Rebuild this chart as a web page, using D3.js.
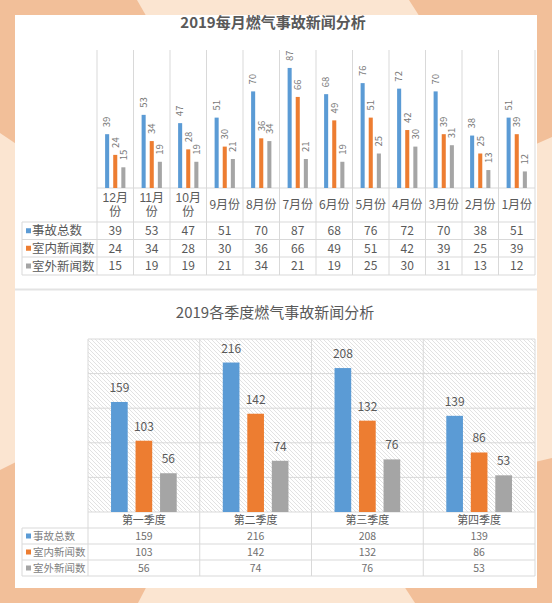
<!DOCTYPE html>
<html>
<head>
<meta charset="utf-8">
<script src="https://cdn.jsdelivr.net/npm/d3@7"></script>
<style>
  html, body { margin: 0; padding: 0; background: #fbe5d1; }
  svg { display: block; font-family: "Noto Sans CJK SC", "Noto Sans", sans-serif; }
  .cat { font-family: "Liberation Sans", "Noto Sans CJK SC", sans-serif; }
</style>
</head>
<body>
<svg id="chart" width="552" height="603"></svg>
<script>
// datos mensuales
var meses = ["12月份", "11月份", "10月份", "9月份", "8月份", "7月份", "6月份", "5月份", "4月份", "3月份", "2月份", "1月份"];
var totalMes = [39, 53, 47, 51, 70, 87, 68, 76, 72, 70, 38, 51];
var interiorMes = [24, 34, 28, 30, 36, 66, 49, 51, 42, 39, 25, 39];
var exteriorMes = [15, 19, 19, 21, 34, 21, 19, 25, 30, 31, 13, 12];

// datos trimestrales
var trimestres = ["第一季度", "第二季度", "第三季度", "第四季度"];
var totalTri = [159, 216, 208, 139];
var interiorTri = [103, 142, 132, 86];
var exteriorTri = [56, 74, 76, 53];
var ticksTri = [50, 100, 150, 200, 250];

var series = ["事故总数", "室内新闻数", "室外新闻数"];
var colores = ["#5b9bd5", "#ed7d31", "#a5a5a5"];

var svg = d3.select("#chart");
var textColor = "#595959";
var gridColor = "#d9d9d9";

// fondo decorativo
svg.append("rect").attr("width", 552).attr("height", 603).attr("fill", "#fbe5d1");
var esquinas = [
  [[0, 0], [137, 0], [160, 40], [40, 160], [0, 133]],
  [[409, 0], [552, 0], [552, 137], [500, 160], [425, 25]],
  [[0, 603], [0, 470], [40, 450], [150, 580], [138, 603]],
  [[552, 603], [415, 603], [400, 580], [500, 470], [552, 458]]
];
svg.selectAll(".esquina").data(esquinas).join("polygon")
  .attr("class", "esquina")
  .attr("points", function (d) { return d.map(function (p) { return p.join(","); }).join(" "); })
  .attr("fill", "#f2bf99");

// paneles blancos
svg.append("rect").attr("x", 15).attr("y", 15).attr("width", 522).attr("height", 573).attr("fill", "#ffffff");
svg.append("rect").attr("x", 15).attr("y", 288.5).attr("width", 522).attr("height", 2).attr("fill", "#e3e3e3");

// patron rayado del area de grafico
var defs = svg.append("defs");
var pat = defs.append("pattern")
  .attr("id", "rayas")
  .attr("patternUnits", "userSpaceOnUse")
  .attr("width", 4)
  .attr("height", 4);
pat.append("rect").attr("width", 4).attr("height", 4).attr("fill", "#ffffff");
pat.append("path")
  .attr("d", "M-1,-1 L5,5 M-1,3 L1,5 M3,-1 L5,1")
  .attr("stroke", "#d6d6d6")
  .attr("stroke-width", 0.7);

function drawChart(o) {
  var g = svg.append("g");
  var x = d3.scaleBand().domain(o.cats).range([o.left, o.right]);
  var xs = d3.scaleBand().domain(series).range([0, x.bandwidth()])
    .paddingInner(o.pi).paddingOuter(o.po);
  var y = d3.scaleLinear().domain([0, o.max]).range([o.filas[0], o.top]);

  // titulo
  g.append("text")
    .attr("x", o.tituloX)
    .attr("y", o.tituloY)
    .attr("text-anchor", "middle")
    .attr("font-size", 15)
    .attr("font-weight", o.negrita ? "bold" : "normal")
    .attr("fill", textColor)
    .text(o.titulo);

  if (o.rayado) {
    g.append("rect")
      .attr("x", o.left).attr("y", o.top)
      .attr("width", o.right - o.left).attr("height", o.filas[0] - o.top)
      .attr("fill", "url(#rayas)");
  }

  // lineas horizontales de la cuadricula
  g.selectAll(".hgrid").data(o.ticks).join("line")
    .attr("class", "hgrid")
    .attr("x1", o.left).attr("x2", o.right)
    .attr("y1", function (d) { return y(d); })
    .attr("y2", function (d) { return y(d); })
    .attr("stroke", gridColor).attr("stroke-width", 1);

  // lineas verticales (pasan por la tabla)
  var bordes = o.cats.map(function (c) { return x(c); }).concat([o.right]);
  g.selectAll(".vgrid").data(bordes).join("line")
    .attr("class", "vgrid")
    .attr("x1", function (d) { return d; }).attr("x2", function (d) { return d; })
    .attr("y1", o.top).attr("y2", o.filas[4])
    .attr("stroke", gridColor).attr("stroke-width", 1);

  // filas de la tabla
  g.append("line")
    .attr("x1", o.left).attr("x2", o.right)
    .attr("y1", o.filas[0]).attr("y2", o.filas[0])
    .attr("stroke", gridColor);
  g.selectAll(".fila").data(o.filas.slice(1)).join("line")
    .attr("class", "fila")
    .attr("x1", 22).attr("x2", o.right)
    .attr("y1", function (d) { return d; }).attr("y2", function (d) { return d; })
    .attr("stroke", gridColor);
  g.append("line")
    .attr("x1", 22).attr("x2", 22)
    .attr("y1", o.filas[1]).attr("y2", o.filas[4])
    .attr("stroke", gridColor);

  // barras y etiquetas
  series.forEach(function (s, i) {
    var vals = o.datos[i];
    g.selectAll(".bar" + i).data(o.cats).join("rect")
      .attr("class", "bar" + i)
      .attr("x", function (c) { return x(c) + xs(s); })
      .attr("width", xs.bandwidth())
      .attr("y", function (c, j) { return y(vals[j]); })
      .attr("height", function (c, j) { return o.filas[0] - y(vals[j]); })
      .attr("fill", colores[i]);

    var et = g.selectAll(".et" + i).data(o.cats).join("text")
      .attr("class", "et" + i)
      .attr("font-size", o.etSize)
      .attr("fill", o.etColor)
      .text(function (c, j) { return vals[j]; });
    if (o.rotado) {
      et.attr("text-anchor", "start")
        .attr("dy", "0.35em")
        .attr("transform", function (c, j) {
          var cx = x(c) + xs(s) + xs.bandwidth() / 2;
          return "translate(" + cx + "," + (y(vals[j]) - 7) + ") rotate(-90)";
        });
    } else {
      et.attr("text-anchor", "middle")
        .attr("x", function (c) { return x(c) + xs(s) + xs.bandwidth() / 2; })
        .attr("y", function (c, j) { return y(vals[j]) - 10; });
    }

    // leyenda de la tabla
    var fy = (o.filas[i + 1] + o.filas[i + 2]) / 2;
    g.append("rect")
      .attr("x", 26).attr("y", fy - 2.5)
      .attr("width", 5).attr("height", 5)
      .attr("fill", colores[i]);
    g.append("text")
      .attr("x", o.leyendaX).attr("y", fy)
      .attr("dy", "0.36em")
      .attr("font-size", o.leyendaSize)
      .attr("fill", o.leyendaColor)
      .text(s);

    // valores de la tabla
    g.selectAll(".val" + i).data(o.cats).join("text")
      .attr("class", "val" + i)
      .attr("x", function (c) { return x(c) + x.bandwidth() / 2; })
      .attr("y", fy)
      .attr("dy", "0.36em")
      .attr("text-anchor", "middle")
      .attr("font-size", o.valSize)
      .attr("fill", o.valColor)
      .text(function (c, j) { return vals[j]; });
  });

  // etiquetas de categoria (las largas se parten en dos lineas)
  var cy = (o.filas[0] + o.filas[1]) / 2;
  o.cats.forEach(function (c) {
    var cx = x(c) + x.bandwidth() / 2;
    var lineas = c.length > o.corte ? [c.slice(0, o.corte), c.slice(o.corte)] : [c];
    lineas.forEach(function (l, k) {
      g.append("text")
        .attr("class", lineas.length > 1 ? "cat" : null)
        .attr("x", cx)
        .attr("y", cy + (k - (lineas.length - 1) / 2) * 14)
        .attr("dy", "0.36em")
        .attr("text-anchor", "middle")
        .attr("font-size", o.catSize)
        .attr("fill", textColor)
        .text(l);
    });
  });
}

drawChart({
  cats: meses,
  datos: [totalMes, interiorMes, exteriorMes],
  titulo: "2019每月燃气事故新闻分析",
  tituloX: 273, tituloY: 28, negrita: true,
  left: 97, right: 535, top: 50, max: 100, ticks: [],
  filas: [188, 222, 239.5, 257, 275],
  pi: 0.5, po: 1,
  rotado: true, rayado: false,
  etSize: 9.5, etColor: "#7a7a7a",
  leyendaX: 32, leyendaSize: 12.5, leyendaColor: textColor,
  valSize: 12, valColor: textColor,
  catSize: 12, corte: 3
});

drawChart({
  cats: trimestres,
  datos: [totalTri, interiorTri, exteriorTri],
  titulo: "2019各季度燃气事故新闻分析",
  tituloX: 275, tituloY: 318, negrita: false,
  left: 88, right: 535, top: 339, max: 250, ticks: ticksTri,
  filas: [512, 528, 544, 560, 576],
  pi: 0.32, po: 0.94,
  rotado: false, rayado: true,
  etSize: 12, etColor: textColor,
  leyendaX: 33, leyendaSize: 10.5, leyendaColor: "#7f7f7f",
  valSize: 10.5, valColor: "#6f6f6f",
  catSize: 11, corte: 10
});
</script>
</body>
</html>
